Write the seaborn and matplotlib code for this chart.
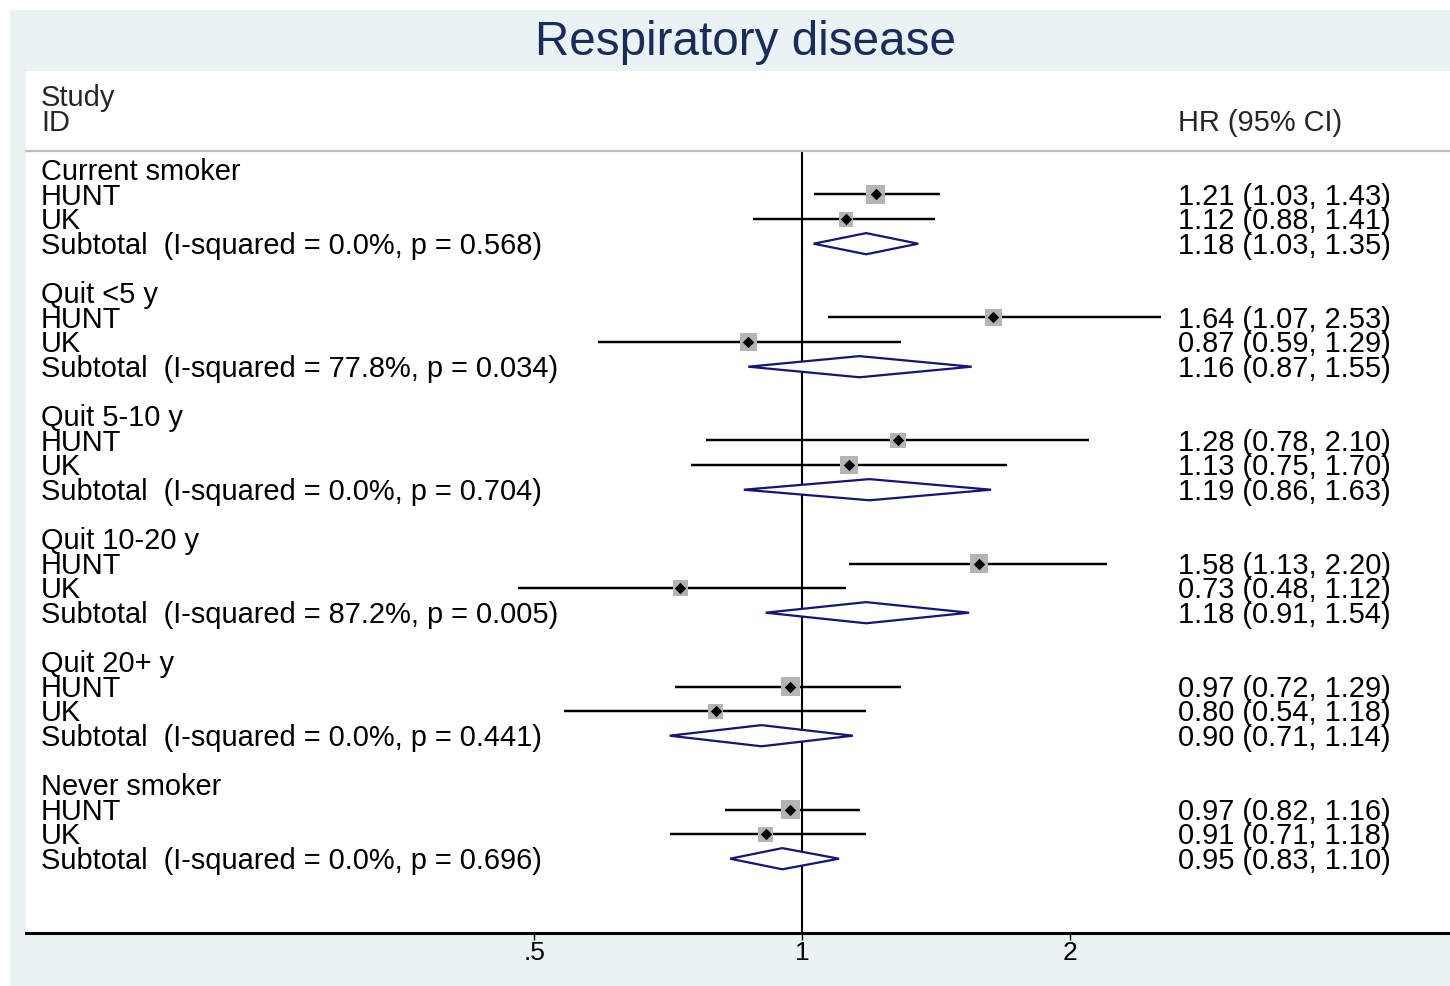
import numpy as np
import pandas as pd
import matplotlib
matplotlib.use("Agg")
import matplotlib.pyplot as plt
import matplotlib.transforms as mtrans
from matplotlib.patches import Polygon, Rectangle
from matplotlib.ticker import NullLocator
import seaborn as sns

# ---------------- data ----------------
groups = ["Current smoker", "Quit <5 y", "Quit 5-10 y", "Quit 10-20 y", "Quit 20+ y", "Never smoker"]
studies = ["HUNT", "UK"]
hunt_hr = [1.21, 1.64, 1.28, 1.58, 0.97, 0.97]
hunt_lo = [1.03, 1.07, 0.78, 1.13, 0.72, 0.82]
hunt_hi = [1.43, 2.53, 2.10, 2.20, 1.29, 1.16]
uk_hr = [1.12, 0.87, 1.13, 0.73, 0.80, 0.91]
uk_lo = [0.88, 0.59, 0.75, 0.48, 0.54, 0.71]
uk_hi = [1.41, 1.29, 1.70, 1.12, 1.18, 1.18]
sub_hr = [1.18, 1.16, 1.19, 1.18, 0.90, 0.95]
sub_lo = [1.03, 0.87, 0.86, 0.91, 0.71, 0.83]
sub_hi = [1.35, 1.55, 1.63, 1.54, 1.14, 1.10]
i_squared = [0.0, 77.8, 0.0, 87.2, 0.0, 0.0]
p_values = ["0.568", "0.034", "0.704", "0.005", "0.441", "0.696"]
hunt_w = [62, 47, 44, 59, 62, 62]
uk_w = [38, 53, 56, 41, 38, 38]
x_ticks = [0.5, 1, 2]
x_ticklabels = [".5", "1", "2"]
title = "Respiratory disease"

# ---------------- build table ----------------
rows = []
for g, name in enumerate(groups):
    base = 5 * g
    rows.append(dict(row=base, kind="header", label=name, hr=np.nan, lo=np.nan, hi=np.nan, w=np.nan))
    rows.append(dict(row=base + 1, kind="study", label=studies[0], hr=hunt_hr[g], lo=hunt_lo[g], hi=hunt_hi[g], w=hunt_w[g]))
    rows.append(dict(row=base + 2, kind="study", label=studies[1], hr=uk_hr[g], lo=uk_lo[g], hi=uk_hi[g], w=uk_w[g]))
    rows.append(dict(row=base + 3, kind="sub",
                     label=f"Subtotal  (I-squared = {i_squared[g]:.1f}%, p = {p_values[g]})",
                     hr=sub_hr[g], lo=sub_lo[g], hi=sub_hi[g], w=np.nan))
df = pd.DataFrame(rows)
st = df[df.kind == "study"].reset_index(drop=True)
sb = df[df.kind == "sub"].reset_index(drop=True)

# ---------------- figure ----------------
sns.set_theme(style="white")
plt.rcParams['font.family'] = ['Liberation Sans', 'DejaVu Sans']

W, H = 1450, 986
fig = plt.figure(figsize=(W / 100, H / 100), dpi=100, facecolor="white")
fx = lambda px: px / W
fy = lambda py: 1 - py / H
fig.patches.append(Rectangle((fx(10), 0), fx(W - 10), fy(10), transform=fig.transFigure,
                             facecolor="#EAF2F3", edgecolor="none", zorder=-5))
ax = fig.add_axes([fx(26), fy(933), fx(W - 26), (933 - 71) / H])
ax.set_zorder(1)
ax.set_facecolor("white")

ax.set_xscale("log")
xlo, xhi = 0.1344, 5.34
ytop, ybot = -4.02, 31.02
sep_y = -0.77

# CI lines
ax.hlines(st.row, st.lo, st.hi, color="black", lw=1.75, zorder=2)
# weight boxes
sns.scatterplot(data=st, x="hr", y="row", size="w", sizes=(0, 300), size_norm=(0, 100),
                marker="s", color="#B4B4B4", linewidth=0, legend=False, ax=ax, zorder=3)
# point estimates
sns.scatterplot(data=st, x="hr", y="row", marker="D", color="black", s=34, linewidth=0,
                legend=False, ax=ax, zorder=4)
# subtotal diamonds
hh = 0.43
for _, r in sb.iterrows():
    poly = Polygon([(r.lo, r.row), (r.hr, r.row - hh), (r.hi, r.row), (r.hr, r.row + hh)],
                   closed=True, facecolor="white", edgecolor="#14147A", lw=1.6, zorder=3)
    ax.add_patch(poly)

# null line
ax.vlines(1, sep_y, ybot, color="black", lw=1.5, zorder=1)

blend = mtrans.blended_transform_factory(ax.transAxes, ax.transData)
ax.plot([0, 1], [sep_y, sep_y], transform=blend, color="#BEBEBE", lw=1.6, clip_on=False)

fs = 20.9
off = 0.42
lx = (41 - 26) / (W - 26)
rx = (1178 - 26) / (W - 26)
ax.text(lx, -3 + off, "Study", transform=blend, fontsize=fs, va="baseline", ha="left")
ax.text(lx, -2 + off, "ID", transform=blend, fontsize=fs, va="baseline", ha="left")
ax.text(rx, -2 + off, "HR (95% CI)", transform=blend, fontsize=fs, va="baseline", ha="left")
for _, r in df.iterrows():
    ax.text(lx, r.row + off, r.label, transform=blend, fontsize=fs, va="baseline", ha="left", color="black")
    if r.kind != "header":
        ax.text(rx, r.row + off, f"{r.hr:.2f} ({r.lo:.2f}, {r.hi:.2f})", transform=blend,
                fontsize=fs, va="baseline", ha="left", color="black")

ax.set_xlim(xlo, xhi)
ax.set_ylim(ybot, ytop)
ax.set_xticks(x_ticks)
ax.set_xticklabels(x_ticklabels)
ax.xaxis.set_minor_locator(NullLocator())
ax.set_yticks([])
ax.set_xlabel("")
ax.set_ylabel("")
ax.tick_params(axis="x", bottom=True, length=5, width=1.0, color="black", direction="out",
               labelsize=19, pad=1, labelcolor="black")
for s in ["top", "left", "right"]:
    ax.spines[s].set_visible(False)
ax.spines["bottom"].set_color("black")
ax.spines["bottom"].set_linewidth(2.2)

fig.text(fx(745.5), fy(55), title, ha="center", va="baseline", fontsize=34.3, color="#1C2C5A")

fig.savefig("out.png", dpi=100, facecolor="white")
